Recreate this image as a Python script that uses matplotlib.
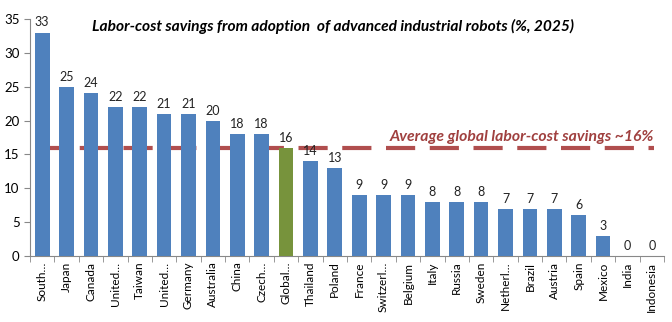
import matplotlib.pyplot as plt
import numpy as np

# data
countries = ["South…", "Japan", "Canada", "United…", "Taiwan", "United…",
             "Germany", "Australia", "China", "Czech…", "Global…", "Thailand",
             "Poland", "France", "Switzerl…", "Belgium", "Italy", "Russia",
             "Sweden", "Netherl…", "Brazil", "Austria", "Spain", "Mexico",
             "India", "Indonesia"]
savings = [33, 25, 24, 22, 22, 21, 21, 20, 18, 18, 16, 14, 13, 9, 9, 9,
           8, 8, 8, 7, 7, 7, 6, 3, 0, 0]
global_avg = 16
highlight = "Global…"

plt.rcParams['font.family'] = ['Lato', 'DejaVu Sans']

fig = plt.figure(figsize=(6.72, 3.22), dpi=100)
ax = fig.add_axes([30/672, 1-256/322, 634/672, 237/322])

x = np.arange(len(countries))
colors = ['#77933C' if c == highlight else '#4F81BD' for c in countries]
ax.bar(x, savings, width=0.6, color=colors, zorder=3)

# dashed average line sits behind the bars
ax.axhline(global_avg, xmin=0.01, xmax=0.985, color='#B04E4E', lw=3,
           dashes=(7, 3.5), zorder=2)
ax.text(25.1, global_avg + 0.6, "Average global labor-cost savings ~16%",
        ha='right', va='bottom', color='#A0403F', fontsize=11.3,
        fontweight='bold', style='italic')

# value labels
for xi, v in zip(x, savings):
    ax.text(xi, v + 0.6, str(v), ha='center', va='bottom', fontsize=9,
            color='#222222', zorder=4)

ax.set_title("Labor-cost savings from adoption  of advanced industrial robots (%, 2025)",
             fontsize=11.2, fontweight='bold', style='italic', x=0.478, y=0.935,
             va='center')

ax.set_xlim(-0.5, len(countries) - 0.5)
ax.set_ylim(0, 35)
ax.set_yticks(range(0, 36, 5))
ax.set_xticks(x)
ax.set_xticklabels(countries, rotation=90, fontsize=8.5)
ax.set_xticks(np.arange(-0.5, len(countries), 1), minor=True)
ax.tick_params(axis='x', which='major', length=0, pad=4)
ax.tick_params(axis='x', which='minor', length=4, color='#888888')
ax.tick_params(axis='y', length=4, color='#888888', labelsize=9.5)

for side in ['top', 'right']:
    ax.spines[side].set_visible(False)
for side in ['left', 'bottom']:
    ax.spines[side].set_color('#888888')

fig.savefig("out.png", dpi=100)
